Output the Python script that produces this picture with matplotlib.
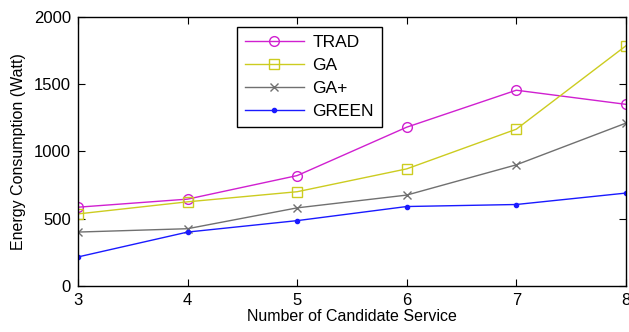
import matplotlib
matplotlib.use("Agg")
import matplotlib.pyplot as plt

plt.rcParams['font.family'] = ['Liberation Sans', 'DejaVu Sans']

x = [3, 4, 5, 6, 7, 8]
trad = [585, 645, 820, 1180, 1455, 1350]
ga = [535, 625, 700, 870, 1165, 1785]
gaplus = [400, 425, 580, 675, 900, 1210]
green = [215, 400, 485, 590, 605, 690]

fig = plt.figure(figsize=(6.29, 3.32), dpi=100)
ax = fig.add_axes([0.124, 0.139, 0.871, 0.81])

ax.plot(x, trad, color='#d020d0', marker='o', markersize=7, markerfacecolor='none', lw=1, label='TRAD')
ax.plot(x, ga, color='#cccc20', marker='s', markersize=7, markerfacecolor='none', lw=1, label='GA')
ax.plot(x, gaplus, color='#707070', marker='x', markersize=6, lw=1, label='GA+')
ax.plot(x, green, color='#1a1aff', marker='.', markersize=6, lw=1, label='GREEN')

ax.set_xlim(3, 8)
ax.set_ylim(0, 2000)
ax.set_xticks([3, 4, 5, 6, 7, 8])
ax.set_yticks([0, 500, 1000, 1500, 2000])
ax.tick_params(direction='in', top=True, right=True, labelsize=12, length=5, pad=5)
for s in ax.spines.values():
    s.set_linewidth(1)
ax.set_xlabel('Number of Candidate Service', fontsize=11.5, labelpad=1)
ax.set_ylabel('Energy Consumption (Watt)', fontsize=11.5, labelpad=6)

leg = ax.legend(loc='upper left', bbox_to_anchor=(0.274, 0.995), fontsize=12.5,
                fancybox=False, edgecolor='black', framealpha=1,
                handlelength=3.4, borderpad=0.45, labelspacing=0.45, handletextpad=0.5)
leg.get_frame().set_linewidth(1)

fig.savefig('out.png', dpi=100)
